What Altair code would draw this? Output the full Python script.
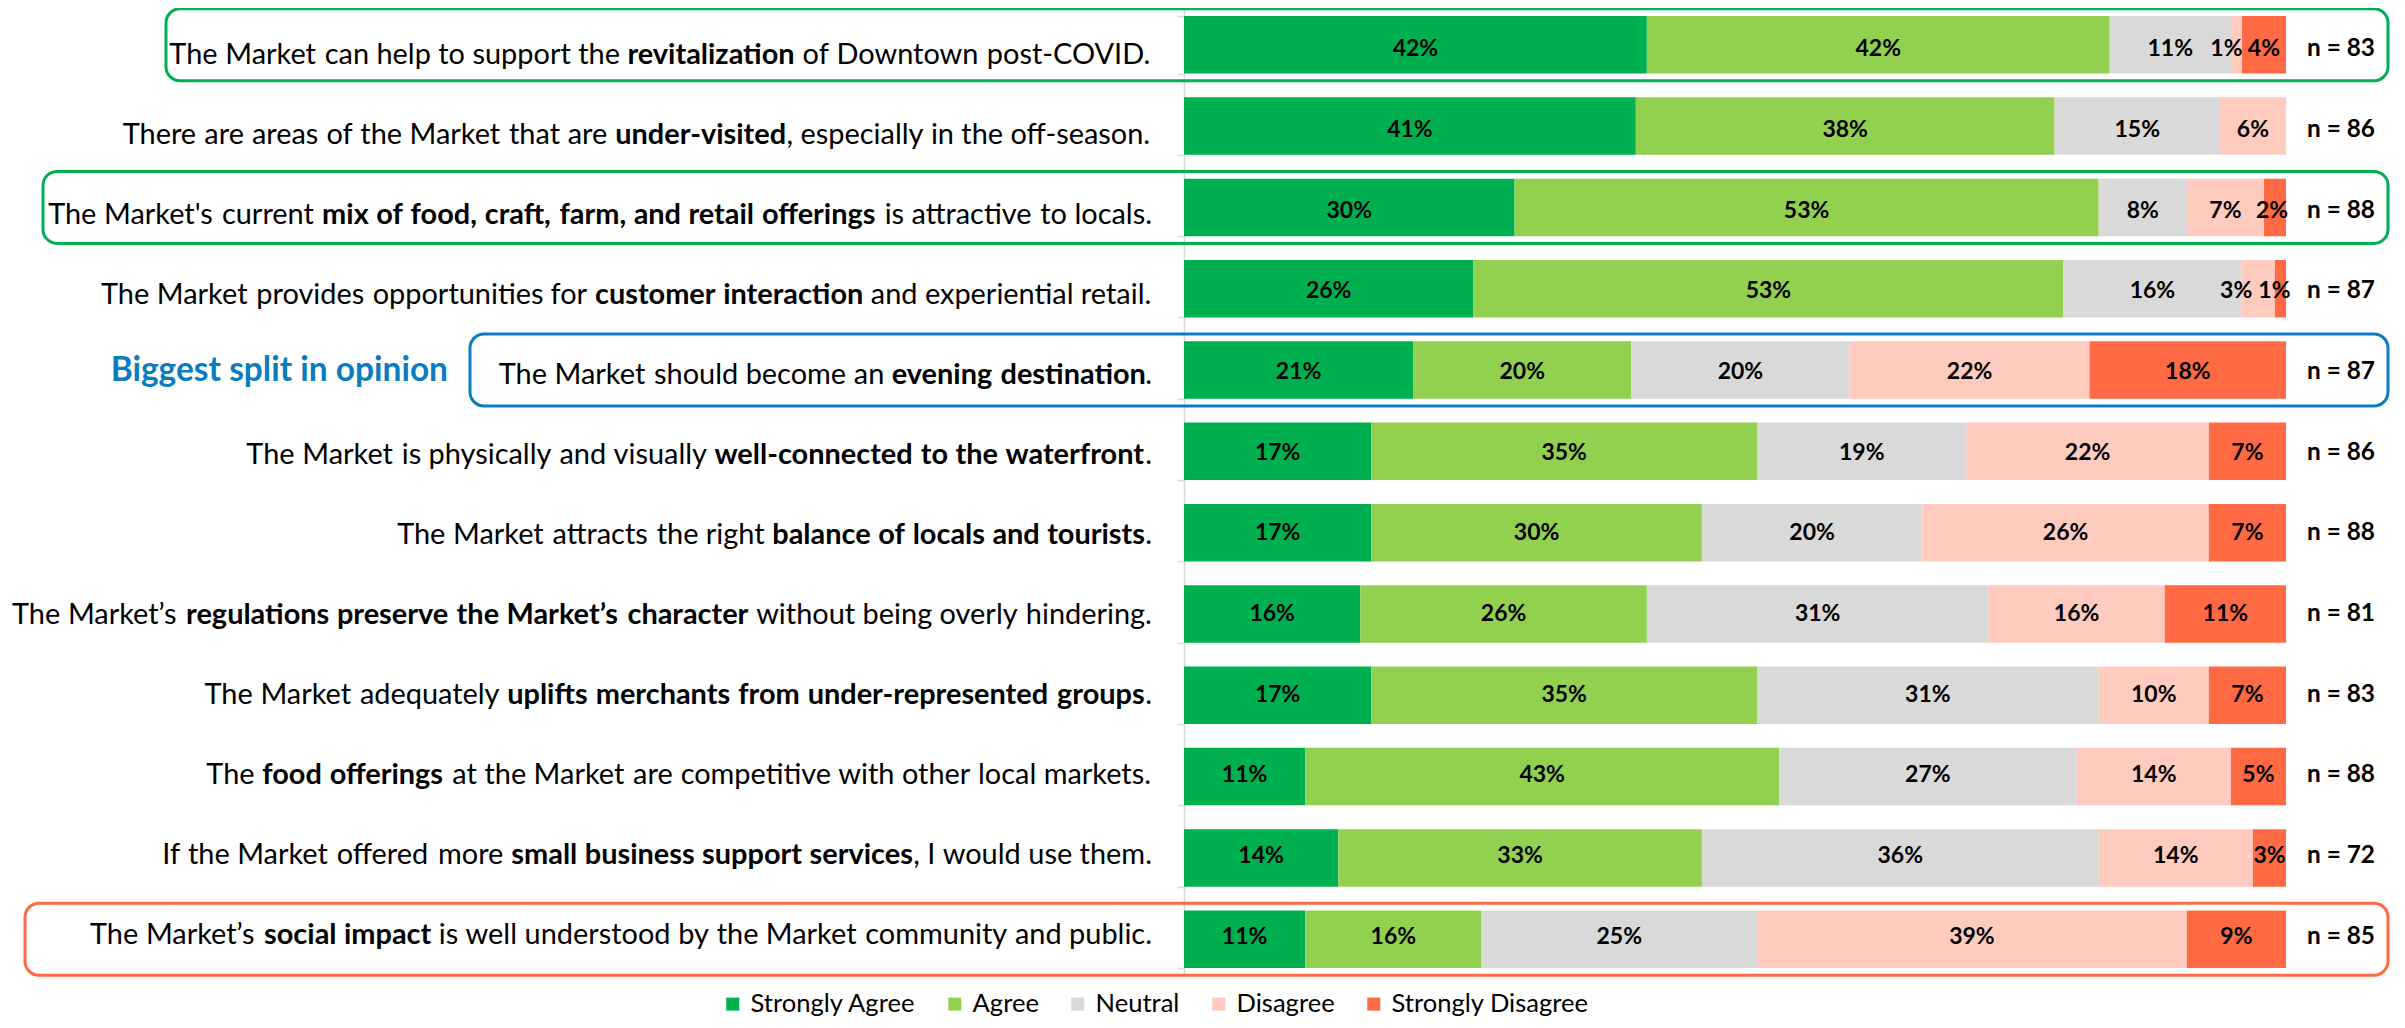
import os
import glob
import struct
import subprocess

import altair as alt
import pandas as pd

# ---------------------------------------------------------------- data
CATEGORIES = ["Strongly Agree", "Agree", "Neutral", "Disagree", "Strongly Disagree"]
COLORS = ["#00B050", "#92D050", "#D9D9D9", "#FFCBBF", "#FF6A45"]

STATEMENTS = [
    "The Market can help to support the **revitalization** of Downtown post-COVID.",
    "There are areas of the Market that are **under-visited**, especially in the off-season.",
    "The Market's current **mix of food, craft, farm, and retail offerings** is attractive to locals.",
    "The Market provides opportunities for **customer interaction** and experiential retail.",
    "The Market should become an **evening destination**.",
    "The Market is physically and visually **well-connected to the waterfront**.",
    "The Market attracts the right **balance of locals and tourists**.",
    "The Market\u2019s **regulations preserve the Market\u2019s character** without being overly hindering.",
    "The Market adequately **uplifts merchants from under-represented groups**.",
    "The **food offerings** at the Market are competitive with other local markets.",
    "If the Market offered more **small business support services**, I would use them.",
    "The Market\u2019s **social impact** is well understood by the Market community and public.",
]
N_RESP = [83, 86, 88, 87, 87, 86, 88, 81, 83, 88, 72, 85]
STRONGLY_AGREE = [42, 41, 30, 26, 21, 17, 17, 16, 17, 11, 14, 11]
AGREE = [42, 38, 53, 53, 20, 35, 30, 26, 35, 43, 33, 16]
NEUTRAL = [11, 15, 8, 16, 20, 19, 20, 31, 31, 27, 36, 25]
DISAGREE = [1, 6, 7, 3, 22, 22, 26, 16, 10, 14, 14, 39]
STRONGLY_DISAGREE = [4, 0, 2, 1, 18, 7, 7, 11, 7, 5, 3, 9]

SPLIT_TEXT = "Biggest split in opinion"
SPLIT_ROW = 4
HIGHLIGHTS = [  # row index, box colour
    (0, "#00B050"),
    (2, "#00B050"),
    (4, "#0A7CC0"),
    (11, "#FF6A45"),
]

# ---------------------------------------------------------------- layout
FONT_CHOICES = ["Lato", "Liberation Sans", "DejaVu Sans"]
PLOT_W, PLOT_H = 1102, 968
PAD = {"left": 1176, "top": 0, "right": 107, "bottom": 40}
LABEL_RIGHT = -32          # right edge of statement text, px from plot left
BOX_LEFT = [-1018, -1141, -714, -1159]
BOX_RIGHT = 1204
BLUE = "#0A7CC0"
# small sideways nudges (px) of crowded percentage labels: (row, category index)
LABEL_NUDGE = {(0, 3): -10, (3, 3): -22, (3, 4): -6, (2, 4): -3}


# ---------------------------------------------------------------- font metrics
class Metrics:
    def __init__(self, path):
        with open(path, "rb") as f:
            d = f.read()
        base = 0
        if d[:4] == b"ttcf":
            base = struct.unpack(">I", d[12:16])[0]
        num = struct.unpack(">H", d[base + 4:base + 6])[0]
        t = {}
        for i in range(num):
            r = base + 12 + 16 * i
            t[d[r:r + 4].decode("latin-1")] = struct.unpack(">I", d[r + 8:r + 12])[0]
        self.variable = "fvar" in t
        self.upem = struct.unpack(">H", d[t["head"] + 18:t["head"] + 20])[0]
        nhm = struct.unpack(">H", d[t["hhea"] + 34:t["hhea"] + 36])[0]
        hm = t["hmtx"]
        self.adv = [struct.unpack(">H", d[hm + 4 * i:hm + 4 * i + 2])[0] for i in range(nhm)]
        c = t["cmap"]
        n = struct.unpack(">H", d[c + 2:c + 4])[0]
        self.sub4 = None
        self.sub12 = None
        for i in range(n):
            pid, eid, so = struct.unpack(">HHI", d[c + 4 + 8 * i:c + 12 + 8 * i])
            fmt = struct.unpack(">H", d[c + so:c + so + 2])[0]
            if fmt == 4 and pid in (0, 3) and self.sub4 is None:
                self.sub4 = c + so
            if fmt == 12 and pid in (0, 3) and self.sub12 is None:
                self.sub12 = c + so
        self.d = d
        self.cache = {}

    def gid(self, ch):
        cp = ord(ch)
        d = self.d
        if self.sub4 is not None and cp < 0x10000:
            st = self.sub4
            segx2 = struct.unpack(">H", d[st + 6:st + 8])[0]
            seg = segx2 // 2
            ends_o = st + 14
            starts_o = ends_o + segx2 + 2
            delta_o = starts_o + segx2
            ro_o = delta_o + segx2
            for i in range(seg):
                end = struct.unpack(">H", d[ends_o + 2 * i:ends_o + 2 * i + 2])[0]
                if end >= cp:
                    start = struct.unpack(">H", d[starts_o + 2 * i:starts_o + 2 * i + 2])[0]
                    if start > cp:
                        return 0
                    delta = struct.unpack(">h", d[delta_o + 2 * i:delta_o + 2 * i + 2])[0]
                    ro = struct.unpack(">H", d[ro_o + 2 * i:ro_o + 2 * i + 2])[0]
                    if ro == 0:
                        return (cp + delta) & 0xFFFF
                    a = ro_o + 2 * i + ro + 2 * (cp - start)
                    g = struct.unpack(">H", d[a:a + 2])[0]
                    return (g + delta) & 0xFFFF if g else 0
            return 0
        if self.sub12 is not None:
            st = self.sub12
            ng = struct.unpack(">I", d[st + 12:st + 16])[0]
            for i in range(ng):
                s, e, g = struct.unpack(">III", d[st + 16 + 12 * i:st + 28 + 12 * i])
                if s <= cp <= e:
                    return g + cp - s
        return 0

    def width(self, text):
        tot = 0.0
        for ch in text:
            if ch not in self.cache:
                g = self.gid(ch)
                self.cache[ch] = self.adv[min(g, len(self.adv) - 1)] / self.upem
            tot += self.cache[ch]
        return tot


class Approx:
    def __init__(self, factor):
        self.factor = factor

    def width(self, text):
        return sum((0.27 if ch == " " else 0.55) for ch in text) * self.factor


def _norm(s):
    return s.lower().replace(" ", "").replace("-", "").replace("_", "")


def font_path(family, bold):
    key = _norm(family)
    try:
        q = family + (":style=Bold" if bold else ":style=Regular")
        p = subprocess.run(["fc-match", "-f", "%{file}", q], capture_output=True,
                           text=True, timeout=10).stdout.strip()
        if p and os.path.exists(p) and key in _norm(os.path.basename(p)):
            return p
    except Exception:
        pass
    cands = []
    for dd in ["/usr/share/fonts", "/usr/local/share/fonts",
               os.path.expanduser("~/.fonts"), os.path.expanduser("~/.local/share/fonts")]:
        cands += glob.glob(os.path.join(dd, "**", "*.ttf"), recursive=True)
        cands += glob.glob(os.path.join(dd, "**", "*.otf"), recursive=True)
    for p in sorted(cands):
        nm = _norm(os.path.basename(p))
        if key not in nm or "italic" in nm or "oblique" in nm or "condensed" in nm:
            continue
        if bold and "bold" in nm and "semibold" not in nm and "extrabold" not in nm:
            return p
        if not bold and ("regular" in nm or nm == key + ".ttf"):
            return p
    return None


def pick_font():
    for fam in FONT_CHOICES:
        try:
            rp = font_path(fam, False)
            bp = font_path(fam, True)
            if rp and bp and rp != bp:
                reg, bld = Metrics(rp), Metrics(bp)
                if not reg.variable and not bld.variable:
                    return fam, reg, bld
        except Exception:
            continue
    return FONT_CHOICES[0], Approx(1.0), Approx(1.08)


FONT, REG, BLD = pick_font()


def tokens(s):
    """Words of a statement as (word, bold, space_before)."""
    out = []
    prev_trail = False
    for ri, run in enumerate(s.split("**")):
        bold = ri % 2 == 1
        lead = run[:1] == " " or prev_trail
        first = True
        for w in run.split(" "):
            if w == "":
                continue
            sp = (lead if first else True) and len(out) > 0
            out.append((w, bold, sp))
            first = False
        prev_trail = run[-1:] == " "
    return out


def wid(word, bold):
    return (BLD if bold else REG).width(word)


def unit_width(s):
    w = 0.0
    for word, bold, sp in tokens(s):
        w += wid(word, bold) + (REG.width(" ") if sp else 0)
    return w


def clamp(v, lo, hi):
    return max(lo, min(hi, v))


Q_FS = clamp(1140 / max(unit_width(s) for s in STATEMENTS), 18, 30)
BAR_FS = 23
N_FS = clamp(68 / BLD.width("n = 83"), 18, 28)
LEG_FS = clamp(199 / REG.width("Strongly Disagree"), 17, 26)
SPLIT_FS = clamp(338 / BLD.width(SPLIT_TEXT), 22, 36)

# ---------------------------------------------------------------- tables
QKEYS = [s.replace("**", "") for s in STATEMENTS]
SERIES = [STRONGLY_AGREE, AGREE, NEUTRAL, DISAGREE, STRONGLY_DISAGREE]

rows = []
for qi, q in enumerate(QKEYS):
    for ci, cat in enumerate(CATEGORIES):
        rows.append({"question": q, "category": cat, "k": ci, "value": SERIES[ci][qi],
                     "nudge": LABEL_NUDGE.get((qi, ci), 0) / PLOT_W})
long_df = pd.DataFrame(rows)

parts = []
for q, s in zip(QKEYS, STATEMENTS):
    cursor = LABEL_RIGHT
    for word, bold, sp in reversed(tokens(s)):
        x_left = cursor - wid(word, bold) * Q_FS
        parts.append({"question": q, "txt": word, "px": x_left,
                      "w": "bold" if bold else "normal"})
        cursor = x_left - (REG.width(" ") * Q_FS if sp else 0)
parts_df = pd.DataFrame(parts)

n_df = pd.DataFrame({"question": QKEYS, "n": N_RESP})
box_df = pd.DataFrame({
    "question": [QKEYS[i] for i, _ in HIGHLIGHTS],
    "col": [c for _, c in HIGHLIGHTS],
    "x0": BOX_LEFT,
    "x1": [BOX_RIGHT] * len(HIGHLIGHTS),
})
split_df = pd.DataFrame({"question": [QKEYS[SPLIT_ROW]], "txt": [SPLIT_TEXT]})

# ---------------------------------------------------------------- scales
XS = alt.Scale(domain=[0, 1], nice=False, zero=False)
YBAND = alt.Scale(domain=QKEYS, paddingInner=0.2927, paddingOuter=0.0984)
YTEXT = alt.Scale(type="point", domain=QKEYS, range=[56, 936], padding=0)

base = alt.Chart(long_df).transform_stack(
    stack="value", groupby=["question"], offset="normalize",
    sort=[alt.SortField("k", order="ascending")], as_=["v0", "v1"]
)

bars = base.mark_bar().encode(
    y=alt.Y("question:N", scale=YBAND,
            axis=alt.Axis(labels=False, title=None, domainColor="#D9D9D9",
                          domainWidth=1.5, tickColor="#D9D9D9", tickSize=7,
                          tickWidth=1.5, tickBand="extent")),
    x=alt.X("v0:Q", scale=XS, axis=None),
    x2="v1:Q",
    color=alt.Color(
        "category:N",
        scale=alt.Scale(domain=CATEGORIES, range=COLORS),
        legend=alt.Legend(
            title=None, orient="none", legendX=-464, legendY=983,
            direction="horizontal", symbolType="square", symbolSize=169,
            symbolStrokeWidth=0, labelFont=FONT, labelFontSize=LEG_FS,
            labelColor="#000000", columnPadding=26, labelOffset=5, padding=0,
            labelLimit=400,
        ),
    ),
)

bar_labels = base.transform_filter("datum.value > 0").transform_calculate(
    mid="(datum.v0 + datum.v1) / 2 + datum.nudge", lab="datum.value + '%'"
).mark_text(font=FONT, fontWeight="bold", fontSize=BAR_FS, baseline="alphabetic",
            dy=8, color="#000000").encode(
    x=alt.X("mid:Q", scale=XS, axis=None),
    y=alt.Y("question:N", scale=YBAND, axis=None),
    text="lab:N",
)

n_labels = alt.Chart(n_df).transform_calculate(lab="'n = ' + datum.n").mark_text(
    font=FONT, fontWeight="bold", fontSize=N_FS, align="left", baseline="alphabetic",
    dx=21, dy=8, color="#000000"
).encode(
    x=alt.XDatum(1, scale=XS, axis=None),
    y=alt.Y("question:N", scale=YBAND, axis=None),
    text="lab:N",
)

q_normal = alt.Chart(parts_df).transform_filter("datum.w == 'normal'").mark_text(
    font=FONT, fontSize=Q_FS, align="left", baseline="alphabetic", color="#000000"
).encode(
    x=alt.X("px:Q", scale=None),
    y=alt.Y("question:N", scale=YTEXT, axis=None),
    text="txt:N",
)

q_bold = alt.Chart(parts_df).transform_filter("datum.w == 'bold'").mark_text(
    font=FONT, fontSize=Q_FS, fontWeight="bold", align="left", baseline="alphabetic",
    color="#000000"
).encode(
    x=alt.X("px:Q", scale=None),
    y=alt.Y("question:N", scale=YTEXT, axis=None),
    text="txt:N",
)

split_label = alt.Chart(split_df).mark_text(
    font=FONT, fontSize=SPLIT_FS, fontWeight="bold", align="right",
    baseline="alphabetic", color=BLUE, dx=-736, dy=-3
).encode(
    x=alt.XDatum(0, scale=XS, axis=None),
    y=alt.Y("question:N", scale=YTEXT, axis=None),
    text="txt:N",
)

boxes = alt.Chart(box_df).mark_bar(
    size=72, cornerRadius=14, fillOpacity=0, strokeWidth=3
).encode(
    x=alt.X("x0:Q", scale=None),
    x2="x1:Q",
    y=alt.Y("question:N", scale=YBAND, axis=None),
    stroke=alt.Stroke("col:N", scale=None),
)

chart = alt.layer(
    bars, bar_labels, n_labels, q_normal, q_bold, split_label, boxes
).resolve_scale(y="independent").properties(
    width=PLOT_W, height=PLOT_H,
    autosize=alt.AutoSizeParams(type="none"),
    padding=PAD,
).configure_view(strokeWidth=0)

chart.save("out.html", embed_options={"renderer": "svg", "actions": False})
